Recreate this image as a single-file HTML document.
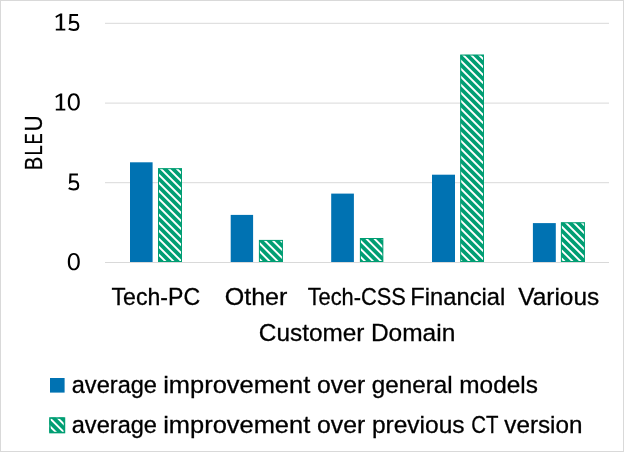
<!DOCTYPE html>
<html><head><meta charset="utf-8"><style>html,body{margin:0;padding:0;background:#fff;}svg{display:block;will-change:transform;}</style></head>
<body><svg width="624" height="452" viewBox="0 0 624 452"><defs><clipPath id="hc0"><rect x="158.00" y="168.20" width="24" height="93.80"/></clipPath><clipPath id="hc1"><rect x="258.90" y="239.90" width="24" height="22.10"/></clipPath><clipPath id="hc2"><rect x="359.90" y="238.00" width="23.4" height="24.00"/></clipPath><clipPath id="hc3"><rect x="460.20" y="54.60" width="23.8" height="207.40"/></clipPath><clipPath id="hc4"><rect x="560.90" y="222.30" width="24" height="39.70"/></clipPath><clipPath id="hcl"><rect x="49.2" y="417.3" width="16" height="16"/></clipPath></defs><rect x="0" y="0" width="624" height="452" fill="#fff"/><rect x="0.5" y="0.5" width="623" height="451" fill="none" stroke="#d9d9d9" stroke-width="1"/><line x1="105" x2="609" y1="262.50" y2="262.50" stroke="#d9d9d9" stroke-width="1"/><line x1="105" x2="609" y1="182.70" y2="182.70" stroke="#d9d9d9" stroke-width="1"/><line x1="105" x2="609" y1="103.10" y2="103.10" stroke="#d9d9d9" stroke-width="1"/><line x1="105" x2="609" y1="23.30" y2="23.30" stroke="#d9d9d9" stroke-width="1"/><rect x="130.00" y="162.30" width="22.6" height="99.70" fill="#0072B2"/><rect x="230.70" y="214.90" width="22.4" height="47.10" fill="#0072B2"/><rect x="331.20" y="193.60" width="22.7" height="68.40" fill="#0072B2"/><rect x="432.00" y="174.70" width="23.0" height="87.30" fill="#0072B2"/><rect x="532.90" y="223.10" width="22.9" height="38.90" fill="#0072B2"/><g clip-path="url(#hc0)"><rect x="158.00" y="168.20" width="24" height="93.80" fill="#009E73"/><path d="M148.0,123.9L192.0,167.9M148.0,131.9L192.0,175.9M148.0,139.9L192.0,183.9M148.0,147.9L192.0,191.9M148.0,155.9L192.0,199.9M148.0,163.9L192.0,207.9M148.0,171.9L192.0,215.9M148.0,179.9L192.0,223.9M148.0,187.9L192.0,231.9M148.0,195.9L192.0,239.9M148.0,203.9L192.0,247.9M148.0,211.9L192.0,255.9M148.0,219.9L192.0,263.9M148.0,227.9L192.0,271.9M148.0,235.9L192.0,279.9M148.0,243.9L192.0,287.9M148.0,251.9L192.0,295.9M148.0,259.9L192.0,303.9M148.0,267.9L192.0,311.9" stroke="#fff" stroke-width="1.9" fill="none"/></g><rect x="158.50" y="168.70" width="23" height="92.80" fill="none" stroke="#009E73" stroke-width="1"/><g clip-path="url(#hc1)"><rect x="258.90" y="239.90" width="24" height="22.10" fill="#009E73"/><path d="M248.9,192.6L292.9,236.6M248.9,200.6L292.9,244.6M248.9,208.6L292.9,252.6M248.9,216.6L292.9,260.6M248.9,224.6L292.9,268.6M248.9,232.6L292.9,276.6M248.9,240.6L292.9,284.6M248.9,248.6L292.9,292.6M248.9,256.6L292.9,300.6M248.9,264.6L292.9,308.6" stroke="#fff" stroke-width="1.9" fill="none"/></g><rect x="259.40" y="240.40" width="23" height="21.10" fill="none" stroke="#009E73" stroke-width="1"/><g clip-path="url(#hc2)"><rect x="359.90" y="238.00" width="23.4" height="24.00" fill="#009E73"/><path d="M349.9,190.2L393.3,233.6M349.9,198.2L393.3,241.6M349.9,206.2L393.3,249.6M349.9,214.2L393.3,257.6M349.9,222.2L393.3,265.6M349.9,230.2L393.3,273.6M349.9,238.2L393.3,281.6M349.9,246.2L393.3,289.6M349.9,254.2L393.3,297.6M349.9,262.2L393.3,305.6" stroke="#fff" stroke-width="1.9" fill="none"/></g><rect x="360.40" y="238.50" width="22.4" height="23.00" fill="none" stroke="#009E73" stroke-width="1"/><g clip-path="url(#hc3)"><rect x="460.20" y="54.60" width="23.8" height="207.40" fill="#009E73"/><path d="M450.2,10.0L494.0,53.8M450.2,18.0L494.0,61.8M450.2,26.0L494.0,69.8M450.2,34.0L494.0,77.8M450.2,42.0L494.0,85.8M450.2,50.0L494.0,93.8M450.2,58.0L494.0,101.8M450.2,66.0L494.0,109.8M450.2,74.0L494.0,117.8M450.2,82.0L494.0,125.8M450.2,90.0L494.0,133.8M450.2,98.0L494.0,141.8M450.2,106.0L494.0,149.8M450.2,114.0L494.0,157.8M450.2,122.0L494.0,165.8M450.2,130.0L494.0,173.8M450.2,138.0L494.0,181.8M450.2,146.0L494.0,189.8M450.2,154.0L494.0,197.8M450.2,162.0L494.0,205.8M450.2,170.0L494.0,213.8M450.2,178.0L494.0,221.8M450.2,186.0L494.0,229.8M450.2,194.0L494.0,237.8M450.2,202.0L494.0,245.8M450.2,210.0L494.0,253.8M450.2,218.0L494.0,261.8M450.2,226.0L494.0,269.8M450.2,234.0L494.0,277.8M450.2,242.0L494.0,285.8M450.2,250.0L494.0,293.8M450.2,258.0L494.0,301.8M450.2,266.0L494.0,309.8" stroke="#fff" stroke-width="1.9" fill="none"/></g><rect x="460.70" y="55.10" width="22.8" height="206.40" fill="none" stroke="#009E73" stroke-width="1"/><g clip-path="url(#hc4)"><rect x="560.90" y="222.30" width="24" height="39.70" fill="#009E73"/><path d="M550.9,175.7L594.9,219.7M550.9,183.7L594.9,227.7M550.9,191.7L594.9,235.7M550.9,199.7L594.9,243.7M550.9,207.7L594.9,251.7M550.9,215.7L594.9,259.7M550.9,223.7L594.9,267.7M550.9,231.7L594.9,275.7M550.9,239.7L594.9,283.7M550.9,247.7L594.9,291.7M550.9,255.7L594.9,299.7M550.9,263.7L594.9,307.7" stroke="#fff" stroke-width="1.9" fill="none"/></g><rect x="561.40" y="222.80" width="23" height="38.70" fill="none" stroke="#009E73" stroke-width="1"/><g clip-path="url(#hcl)"><rect x="49.2" y="417.3" width="16" height="16" fill="#009E73"/><path d="M39.2,375.5L75.2,411.5M39.2,383.5L75.2,419.5M39.2,391.5L75.2,427.5M39.2,399.5L75.2,435.5M39.2,407.5L75.2,443.5M39.2,415.5L75.2,451.5M39.2,423.5L75.2,459.5M39.2,431.5L75.2,467.5" stroke="#fff" stroke-width="1.9" fill="none"/></g><rect x="49.95" y="418.05" width="14.5" height="14.5" fill="none" stroke="#009E73" stroke-width="1.5"/><rect x="50" y="378" width="14.6" height="14.6" fill="#0072B2"/><g fill="#000"><path d="M60.3,93.45H62.2V108.85H65.3V110.6H55.8V108.85H59.7V95.8L56.1,98.0L55.4,96.3Z"/><path fill-rule="evenodd" d="M73.80,93.35C77.64,93.35 79.80,96.45 79.80,101.95C79.80,107.45 77.64,110.55 73.80,110.55C69.96,110.55 67.80,107.45 67.80,101.95C67.80,96.45 69.96,93.35 73.80,93.35ZM73.80,95.15C76.23,95.15 77.60,97.60 77.60,101.95C77.60,106.30 76.23,108.75 73.80,108.75C71.37,108.75 70.00,106.30 70.00,101.95C70.00,97.60 71.37,95.15 73.80,95.15Z"/><g transform="translate(0,-80)"><path d="M60.3,93.45H62.2V108.85H65.3V110.6H55.8V108.85H59.7V95.8L56.1,98.0L55.4,96.3Z"/></g><g transform="translate(0.1,-159.5)"><path fill="none" stroke="#000" d="M77.95,174.5H70.45L70.1,182.1C71.0,181.6 72.2,181.3 73.5,181.3C76.5,181.3 78.2,183.3 78.2,185.7C78.2,188.2 76.3,189.5 73.4,189.5C71.6,189.5 70.1,189.0 68.7,188.2" stroke-width="2.1"/></g><path fill="none" stroke="#000" d="M77.95,174.5H70.45L70.1,182.1C71.0,181.6 72.2,181.3 73.5,181.3C76.5,181.3 78.2,183.3 78.2,185.7C78.2,188.2 76.3,189.5 73.4,189.5C71.6,189.5 70.1,189.0 68.7,188.2" stroke-width="2.1"/><g transform="translate(0,159.7)"><path fill-rule="evenodd" d="M73.80,93.35C77.64,93.35 79.80,96.45 79.80,101.95C79.80,107.45 77.64,110.55 73.80,110.55C69.96,110.55 67.80,107.45 67.80,101.95C67.80,96.45 69.96,93.35 73.80,93.35ZM73.80,95.15C76.23,95.15 77.60,97.60 77.60,101.95C77.60,106.30 76.23,108.75 73.80,108.75C71.37,108.75 70.00,106.30 70.00,101.95C70.00,97.60 71.37,95.15 73.80,95.15Z"/></g></g><g font-family="Liberation Sans, sans-serif" font-size="24.5" fill="#000" stroke="#000" stroke-width="0.3"><text x="111.53" y="304.9" textLength="88.57" lengthAdjust="spacingAndGlyphs">Tech-PC</text><text x="224.72" y="304.9" textLength="62.67" lengthAdjust="spacingAndGlyphs">Other</text><text x="307.65" y="304.9" textLength="98.18" lengthAdjust="spacingAndGlyphs">Tech-CSS</text><text x="410.36" y="304.9" textLength="94.95" lengthAdjust="spacingAndGlyphs">Financial</text><text x="518.25" y="304.9" textLength="80.96" lengthAdjust="spacingAndGlyphs">Various</text><text x="258.86" y="340.9" textLength="105.49" lengthAdjust="spacingAndGlyphs">Customer</text><text x="370.90" y="340.9" textLength="84.39" lengthAdjust="spacingAndGlyphs">Domain</text><text x="71.74" y="392.6" textLength="85.27" lengthAdjust="spacingAndGlyphs">average</text><text x="163.18" y="392.6" textLength="147.03" lengthAdjust="spacingAndGlyphs">improvement</text><text x="317.09" y="392.6" textLength="48.03" lengthAdjust="spacingAndGlyphs">over</text><text x="371.81" y="392.6" textLength="80.80" lengthAdjust="spacingAndGlyphs">general</text><text x="459.26" y="392.6" textLength="78.62" lengthAdjust="spacingAndGlyphs">models</text><text x="71.74" y="432.8" textLength="85.27" lengthAdjust="spacingAndGlyphs">average</text><text x="163.18" y="432.8" textLength="147.03" lengthAdjust="spacingAndGlyphs">improvement</text><text x="317.09" y="432.8" textLength="48.24" lengthAdjust="spacingAndGlyphs">over</text><text x="371.90" y="432.8" textLength="92.66" lengthAdjust="spacingAndGlyphs">previous</text><text x="471.26" y="432.8" textLength="27.20" lengthAdjust="spacingAndGlyphs">CT</text><text x="504.35" y="432.8" textLength="78.12" lengthAdjust="spacingAndGlyphs">version</text><text transform="rotate(-90)" x="-170.25" y="42.2" textLength="13.45" lengthAdjust="spacingAndGlyphs">B</text><text transform="rotate(-90)" x="-155.39" y="42.2" textLength="10.15" lengthAdjust="spacingAndGlyphs">L</text><text transform="rotate(-90)" x="-144.24" y="42.2" textLength="10.98" lengthAdjust="spacingAndGlyphs">E</text><text transform="rotate(-90)" x="-131.43" y="42.2" textLength="16.22" lengthAdjust="spacingAndGlyphs">U</text></g></svg></body></html>
